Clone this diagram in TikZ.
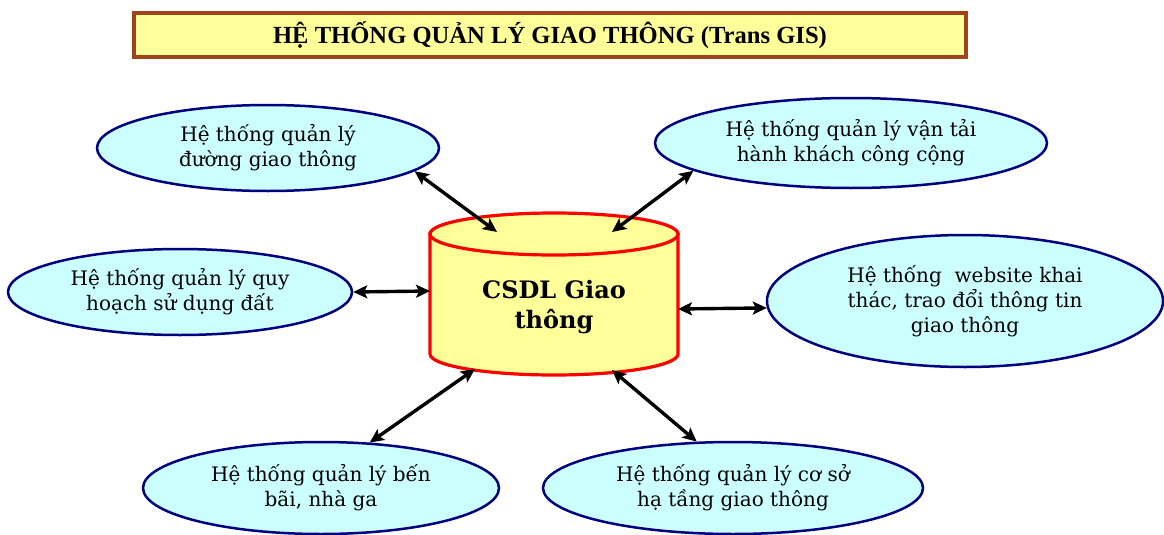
\documentclass[tikz,border=0pt]{standalone}
\usepackage{fontspec}
\setmainfont{DejaVu Serif}
\newfontfamily\titlefont{Liberation Serif}
\usetikzlibrary{shapes.geometric,arrows.meta}
\definecolor{boxyellow}{HTML}{FFFF99}
\definecolor{lightcyan}{HTML}{CCFFFF}
\definecolor{navyline}{HTML}{000080}
\definecolor{titleborder}{HTML}{A0441C}
\tikzset{
  sysell/.style={ellipse, draw=navyline, line width=2.5pt, fill=lightcyan, inner sep=0pt,
    align=center, font=\fontsize{20}{25}\selectfont},
  link/.style={line width=3.4pt, {Stealth[length=14pt,width=13pt,inset=3pt]}-{Stealth[length=14pt,width=13pt,inset=3pt]}},
  cylline/.style={draw=red, line width=3.2pt, fill=boxyellow}
}
\begin{document}
\begin{tikzpicture}[x=1pt,y=-1pt]
\fill[white] (0,0) rectangle (1164,535);
\useasboundingbox (0,0) rectangle (1164,535);
% title
\node[draw=titleborder, line width=4pt, fill=boxyellow, minimum width=832pt, minimum height=44pt, inner sep=0pt,
  font=\titlefont\bfseries\fontsize{24.6}{28}\selectfont] (title) at (550,35) {HỆ THỐNG QUẢN LÝ GIAO THÔNG (Trans GIS)};
% cylinder
\path[cylline] (430,234) -- (430,354) arc[start angle=180, end angle=360, x radius=124pt, y radius=21pt] -- (678,234) -- cycle;
\path[cylline] (554,234) ellipse[x radius=124pt, y radius=21pt];
\node[align=center, font=\bfseries\fontsize{24}{30}\selectfont, inner sep=0pt] (cyl) at (554,307) {CSDL Giao\\thông};
\coordinate (c1) at (497,232);
\coordinate (c2) at (612,232);
\coordinate (c3) at (430,291);
\coordinate (c4) at (678,309);
\coordinate (c5) at (475,369);
\coordinate (c6) at (612,370);
% ellipses
\node[sysell, minimum width=342pt, minimum height=86pt] (e1) at (268,148) {Hệ thống quản lý\\đường giao thông};
\node[sysell, minimum width=392pt, minimum height=90pt] (e2) at (851,143) {Hệ thống quản lý vận tải\\hành khách công cộng};
\node[sysell, minimum width=344pt, minimum height=86pt] (e3) at (180,292) {Hệ thống quản lý quy\\hoạch sử dụng đất};
\node[sysell, minimum width=396pt, minimum height=132pt] (e4) at (965,301) {Hệ thống~ website khai\\thác, trao đổi thông tin\\giao thông};
\node[sysell, minimum width=356pt, minimum height=92pt] (e5) at (321,488) {Hệ thống quản lý bến\\bãi, nhà ga};
\node[sysell, minimum width=380pt, minimum height=92pt] (e6) at (733,488) {Hệ thống quản lý cơ sở\\hạ tầng giao thông};
% connectors
\draw[link] (e1.-9) -- (c1);
\draw[link] (e2.190) -- (c2);
\draw[link] (e3.east) -- (c3);
\draw[link] (e4.182) -- (c4);
\draw[link] (e5.43) -- (c5);
\draw[link] (e6.128) -- (c6);
\end{tikzpicture}
\end{document}
